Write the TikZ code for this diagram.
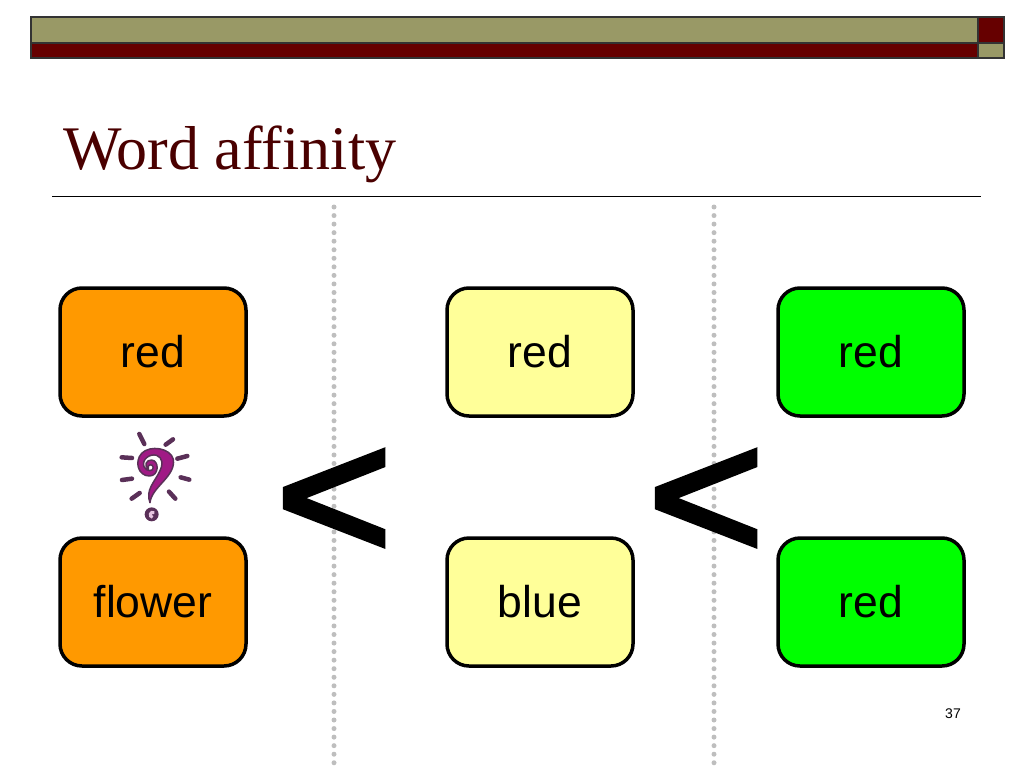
\documentclass[tikz,border=0pt]{standalone}
\usepackage{fontspec}
\setmainfont{Liberation Sans}
\newfontfamily\titlefont{Liberation Serif}
\newfontfamily\lessfont[FakeBold=3]{Liberation Sans}
\definecolor{olivebar}{HTML}{999966}
\definecolor{darkred}{HTML}{660000}
\definecolor{titlered}{HTML}{4A0000}
\definecolor{orangebox}{HTML}{FF9900}
\definecolor{yellowbox}{HTML}{FFFF99}
\definecolor{greenbox}{HTML}{00FF00}
\definecolor{dotgray}{HTML}{BEBEBE}
\definecolor{markpurple}{HTML}{A01A85}
\definecolor{markdark}{HTML}{5A3058}
\tikzset{
  wordbox/.style={draw=black, line width=3.5pt, rounded corners=22pt, minimum width=186pt, minimum height=128pt, inner sep=0pt, font=\fontsize{44.5}{45}\selectfont},
  lessthan/.style={inner sep=0pt, font=\lessfont\fontsize{184}{184}\selectfont},
  barpart/.style={draw=black!80, line width=1.4pt},
  dotline/.style={dotgray, line width=5pt, line cap=round, dash pattern=on 0pt off 8.55pt},
  markray/.style={markdark, line width=4.5pt, line cap=round}
}
\begin{document}
\begin{tikzpicture}[x=1pt,y=-1pt]
  \useasboundingbox (0,0) rectangle (1024,768);

  % Barra superior
  \draw[barpart, fill=olivebar] (31,17) rectangle (978,43);
  \draw[barpart, fill=darkred] (31,43) rectangle (978,58);
  \draw[barpart, fill=darkred] (978,17) rectangle (1004,43);
  \draw[barpart, fill=olivebar] (978,43) rectangle (1004,58);

  % Titulo
  \node[anchor=base west, inner sep=0pt, text=titlered, font=\titlefont\fontsize{62}{62}\selectfont] (title) at (63,169) {Word affinity};
  \draw[line width=1pt] (52,196) -- (981,196);

  % Separadores
  \draw[dotline] (334,207) -- (334,768);
  \draw[dotline] (714,207) -- (714,768);

  % Cajas
  \node[wordbox, fill=orangebox] (redA) at (153,352) {\raisebox{-2pt}{red}};
  \node[wordbox, fill=orangebox] (flower) at (153,602) {\raisebox{-2pt}{flower}};
  \node[wordbox, fill=yellowbox] (redB) at (540,352) {\raisebox{-2pt}{red}};
  \node[wordbox, fill=yellowbox] (blue) at (540,602) {\raisebox{-2pt}{blue}};
  \node[wordbox, fill=greenbox] (redC) at (871,352) {\raisebox{-2pt}{red}};
  \node[wordbox, fill=greenbox] (redD) at (871,602) {\raisebox{-2pt}{red}};

  % Signos menor que
  \node[lessthan] (lessA) at (334,505) {\scalebox{1.08}[1]{<}};
  \node[lessthan] (lessB) at (706,505) {\scalebox{1.08}[1]{<}};

  % Signo de interrogacion
  \begin{scope}[shift={(100,420)}, x=0.3333pt, y=-0.3333pt]
    \draw[markray] (118,42) -- (133,72);
    \draw[markray] (197,74) -- (219,58);
    \draw[markray] (65,112) -- (96,114);
    \draw[markray] (232,116) -- (262,108);
    \draw[markray] (66,180) -- (96,176);
    \draw[markray] (242,172) -- (268,179);
    \draw[markray] (95,236) -- (119,219);
    \draw[markray] (207,215) -- (226,236);
    \fill[markpurple, draw=markdark, line width=1.5pt, line join=round] (150,248) .. controls (155,200) and (228,170) .. (220,118)
      .. controls (212,84) and (150,74) .. (125,100) .. controls (102,125) and (115,168) .. (148,168)
      .. controls (178,168) and (178,122) .. (155,120) .. controls (138,120) and (132,135) .. (145,148)
      .. controls (140,132) and (158,130) .. (160,142) .. controls (160,155) and (140,156) .. (132,140)
      .. controls (124,118) and (150,100) .. (170,106) .. controls (188,112) and (190,135) .. (180,152)
      .. controls (165,185) and (135,210) .. (150,248) -- cycle;
    \fill[markdark] (155,283) circle (21);
    \draw[white!75!markpurple, line width=3pt] (163,278) .. controls (150,272) and (146,290) .. (158,292);
  \end{scope}

  % Numero de pagina
  \node[inner sep=0pt, font=\fontsize{14}{14}\selectfont] (pagenum) at (953,714) {37};
\end{tikzpicture}
\end{document}
